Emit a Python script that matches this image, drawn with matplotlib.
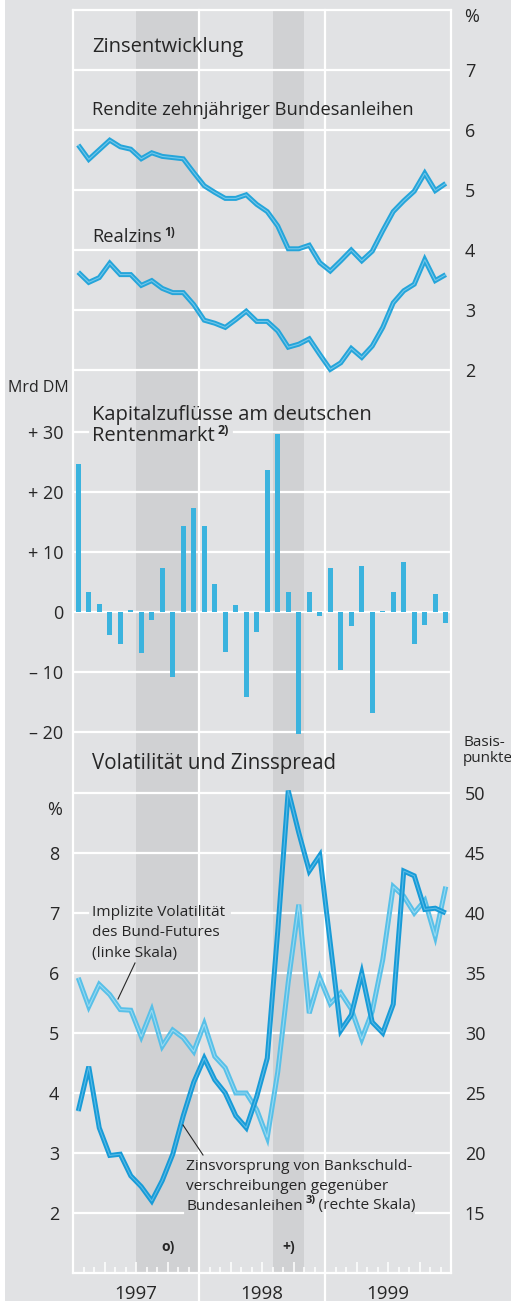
import matplotlib
matplotlib.use('Agg')
import matplotlib.pyplot as plt
from matplotlib import font_manager
from matplotlib.patches import Rectangle
import numpy as np

# ---------------- data (monthly, Jan 1997 .. Dec 1999) ----------------
months = np.arange(36)
year_labels = ['1997', '1998', '1999']

rendite = [5.75, 5.51, 5.67, 5.83, 5.72, 5.68, 5.52, 5.62, 5.56, 5.54, 5.52, 5.29,
           5.07, 4.96, 4.86, 4.86, 4.92, 4.76, 4.64, 4.40, 4.02, 4.02, 4.08, 3.79,
           3.65, 3.82, 4.00, 3.82, 3.98, 4.32, 4.64, 4.82, 4.98, 5.28, 4.99, 5.11]
realzins = [3.63, 3.46, 3.54, 3.78, 3.59, 3.59, 3.41, 3.49, 3.36, 3.29, 3.29, 3.09,
            2.83, 2.78, 2.71, 2.84, 2.98, 2.81, 2.81, 2.65, 2.38, 2.43, 2.52, 2.26,
            2.01, 2.12, 2.36, 2.21, 2.40, 2.71, 3.12, 3.32, 3.43, 3.84, 3.49, 3.59]
kapital = [24.6, 3.3, 1.3, -3.8, -5.4, 0.4, -6.8, -1.4, 7.3, -10.8, 14.4, 17.3,
           14.3, 4.6, -6.7, 1.1, -14.2, -3.4, 23.7, 29.7, 3.3, -20.4, 3.3, -0.6,
           7.3, -9.7, -2.4, 7.6, -16.9, 0.2, 3.4, 8.4, -5.3, -2.1, 3.0, -1.8]
volatilitaet = [5.92, 5.44, 5.81, 5.64, 5.39, 5.38, 4.94, 5.38, 4.78, 5.05, 4.92, 4.69,
                5.15, 4.61, 4.42, 4.00, 4.00, 3.72, 3.26, 4.35, 5.85, 7.14, 5.33, 5.92,
                5.49, 5.67, 5.40, 4.90, 5.36, 6.22, 7.44, 7.28, 7.00, 7.21, 6.61, 7.44]
spread_bp = [23.5, 27.2, 22.1, 19.8, 19.9, 18.1, 17.2, 16.0, 17.7, 19.9, 23.1, 25.9,
             27.9, 26.1, 25.0, 23.1, 22.1, 24.7, 27.9, 38.5, 50.2, 46.7, 43.5, 44.8,
             37.5, 30.2, 31.5, 35.0, 30.9, 30.0, 32.4, 43.5, 43.1, 40.3, 40.4, 40.0]
shaded_periods = [(6, 12, 'o)'), (19, 22, '+)')]

p1_ticks = [2, 3, 4, 5, 6, 7]
p2_ticks = [-20, -10, 0, 10, 20, 30]
p2_labels = ['\u2013 20', '\u2013 10', '0', '+ 10', '+ 20', '+ 30']
p3_left_ticks = [2, 3, 4, 5, 6, 7, 8]
p3_right_ticks = [15, 20, 25, 30, 35, 40, 45, 50]

# ---------------- style ----------------
BG = '#e1e2e4'
SHADE = '#d0d1d3'
TXT = '#262626'
C_MAIN = '#25a5da'
C_MAIN_HI = '#8fd2ef'
C_DARK = '#189bd7'
C_DARK_HI = '#6fc6ec'
C_LIGHT = '#58c0e8'
C_LIGHT_HI = '#aee2f5'
C_BAR = '#3bb3de'

def has_font(name):
    try:
        font_manager.findfont(font_manager.FontProperties(family=name), fallback_to_default=False)
        return True
    except Exception:
        return False

MAIN_FONT = 'Open Sans' if has_font('Open Sans') else 'DejaVu Sans'
plt.rcParams['font.family'] = [MAIN_FONT, 'DejaVu Sans']

W, H = 511, 1301
fig = plt.figure(figsize=(W / 100, H / 100), dpi=100, facecolor=BG)
renderer = fig.canvas.get_renderer()

def rect(x0, y0, x1, y1):
    return [x0 / W, 1 - y1 / H, (x1 - x0) / W, (y1 - y0) / H]

def fxy(x, y):
    return x / W, 1 - y / H

def rich_text(x, y, parts, size, sup_size=8.5):
    """parts: list of (string, is_superscript). x,y in pixels (top-left origin)."""
    cx = x
    for s, sup in parts:
        if sup:
            t = fig.text(*fxy(cx + 3, y - 5), s, fontsize=sup_size, fontweight='bold',
                         color=TXT, va='center', ha='left')
        else:
            t = fig.text(*fxy(cx, y), s, fontsize=size, color=TXT, va='center', ha='left')
        bb = t.get_window_extent(renderer)
        cx = cx + bb.width + (3 if sup else 0)

fig.patches.append(Rectangle((0, 0), 5 / W, 1, transform=fig.transFigure,
                             facecolor='white', edgecolor='none', zorder=0))

X0, X1, YT, YB = 73, 451, 10, 1273
GRID_LW = 1.6

# ---------------- background frame ----------------
ax0 = fig.add_axes(rect(X0, YT, X1, YB))
ax0.set_facecolor(BG)
ax0.set_xlim(0, 36)
ax0.set_ylim(0, 1)
for s in ax0.spines.values():
    s.set_color('white')
    s.set_linewidth(GRID_LW)
for a, b, lab in shaded_periods:
    ax0.axvspan(a, b, color=SHADE, lw=0, zorder=0)
    ax0.text((a + b) / 2, 0.0205, lab, ha='center', va='center', fontsize=10,
             fontweight='bold', color=TXT)
for k in (12, 24):
    ax0.axvline(k, ymin=-0.022, ymax=1, color='white', lw=GRID_LW, clip_on=False, zorder=1)
ax0.set_xticks(np.arange(0, 37, 3))
ax0.set_xticks(np.arange(0, 37, 1), minor=True)
ax0.tick_params(axis='x', which='major', direction='in', length=8, width=1.1,
                color='white', labelbottom=False)
ax0.tick_params(axis='x', which='minor', direction='in', length=4.3, width=1.1,
                color='white', labelbottom=False)
ax0.set_yticks([])
for i, lab in enumerate(year_labels):
    ax0.text(6 + 12 * i, -0.0165, lab, ha='center', va='center', fontsize=13.5,
             color=TXT, clip_on=False)

def panel(y0, y1, ylim):
    ax = fig.add_axes(rect(X0, y0, X1, y1))
    ax.patch.set_visible(False)
    ax.set_xlim(0, 36)
    ax.set_ylim(*ylim)
    for s in ax.spines.values():
        s.set_visible(False)
    ax.set_xticks([])
    return ax

def gridlines(ax, ticks, gaps=None):
    gaps = gaps or {}
    for t in ticks:
        if t in gaps:
            g0, g1 = gaps[t]
            ax.axhline(t, xmin=0, xmax=g0, color='white', lw=GRID_LW, zorder=1)
            ax.axhline(t, xmin=g1, xmax=1, color='white', lw=GRID_LW, zorder=1)
        else:
            ax.axhline(t, color='white', lw=GRID_LW, zorder=1)

def fancy_line(ax, x, y, c, chi):
    ax.plot(x, y, color=c, lw=3.6, solid_joinstyle='miter', solid_capstyle='butt', zorder=3)
    ax.plot(x, y, color=chi, lw=0.8, alpha=0.75, solid_joinstyle='miter', zorder=4)

xm = months + 0.5

# ---------------- panel 1 ----------------
ax1 = panel(10, 400, (1.5, 8.0))
gridlines(ax1, p1_ticks)
ax1.yaxis.tick_right()
ax1.set_yticks(p1_ticks)
ax1.set_yticklabels([str(t) for t in p1_ticks])
ax1.tick_params(axis='y', length=0, pad=10, labelsize=13, labelcolor=TXT)
for lab in ax1.get_yticklabels():
    lab.set_horizontalalignment('left')
fancy_line(ax1, xm, rendite, C_MAIN, C_MAIN_HI)
fancy_line(ax1, xm, realzins, C_MAIN, C_MAIN_HI)
fig.text(*fxy(464, 17), '%', fontsize=13, color=TXT, va='center', ha='left')
fig.text(*fxy(92, 47), 'Zinsentwicklung', fontsize=14.5, color=TXT, va='center')
fig.text(*fxy(92, 110), 'Rendite zehnjähriger Bundesanleihen', fontsize=13.2, color=TXT, va='center')
rich_text(92, 237, [('Realzins', False), ('1)', True)], 13.2)

# ---------------- panel 2 ----------------
ax2 = panel(400, 762, (-25.0, 35.33))
gridlines(ax2, p2_ticks, gaps={30: (0.04, 0.425)})
ax2.set_yticks(p2_ticks)
ax2.set_yticklabels(p2_labels)
ax2.tick_params(axis='y', length=0, pad=7, labelsize=13, labelcolor=TXT)
ax2.bar(xm, kapital, width=0.5, color=C_BAR, zorder=3)
fig.text(*fxy(8, 388), 'Mrd DM', fontsize=11.5, color=TXT, va='center', ha='left')
fig.text(*fxy(92, 415), 'Kapitalzuflüsse am deutschen', fontsize=14.5, color=TXT, va='center')
rich_text(92, 436, [('Rentenmarkt', False), ('2)', True)], 14.5, sup_size=9)

# ---------------- panel 3 ----------------
ax3 = panel(762, 1273, (1.0, 9.517))
gridlines(ax3, [2, 3, 4, 5, 6, 7, 8, 9], gaps={7: (0.04, 0.42), 2: (0.291, 0.907)})
ax3.set_yticks(p3_left_ticks)
ax3.set_yticklabels([str(t) for t in p3_left_ticks])
ax3.tick_params(axis='y', length=0, pad=10, labelsize=13, labelcolor=TXT)
ax3r = ax3.twinx()
ax3r.patch.set_visible(False)
for s in ax3r.spines.values():
    s.set_visible(False)
ax3r.set_ylim(5 * 1.0 + 5, 5 * 9.517 + 5)
ax3r.set_yticks(p3_right_ticks)
ax3r.set_yticklabels([str(t) for t in p3_right_ticks])
ax3r.tick_params(axis='y', length=0, pad=10, labelsize=13, labelcolor=TXT)
fancy_line(ax3, xm, volatilitaet, C_LIGHT, C_LIGHT_HI)
fancy_line(ax3r, xm, spread_bp, C_DARK, C_DARK_HI)

fig.text(*fxy(92, 763), 'Volatilität und Zinsspread', fontsize=14.8, color=TXT, va='center')
fig.text(*fxy(62, 810), '%', fontsize=13, color=TXT, va='center', ha='right')
fig.text(*fxy(463, 742), 'Basis-', fontsize=11, color=TXT, va='center', ha='left')
fig.text(*fxy(463, 758), 'punkte', fontsize=11, color=TXT, va='center', ha='left')
ANN = 11.1
fig.text(*fxy(92, 913), 'Implizite Volatilität', fontsize=ANN, color=TXT, va='center')
fig.text(*fxy(92, 933), 'des Bund-Futures', fontsize=ANN, color=TXT, va='center')
fig.text(*fxy(92, 953), '(linke Skala)', fontsize=ANN, color=TXT, va='center')
fig.text(*fxy(186, 1167), 'Zinsvorsprung von Bankschuld-', fontsize=ANN, color=TXT, va='center')
fig.text(*fxy(186, 1187), 'verschreibungen gegenüber', fontsize=ANN, color=TXT, va='center')
rich_text(186, 1206, [('Bundesanleihen', False), ('3)', True), ('\u2009(rechte Skala)', False)],
          ANN, sup_size=8)
# leader lines
fig.add_artist(plt.Line2D([118 / W, 135 / W], [1 - 999 / H, 1 - 963 / H], color=TXT, lw=0.8))
fig.add_artist(plt.Line2D([183 / W, 203 / W], [1 - 1125 / H, 1 - 1155 / H], color=TXT, lw=0.8))

fig.savefig('out.png', dpi=100, facecolor=BG)
